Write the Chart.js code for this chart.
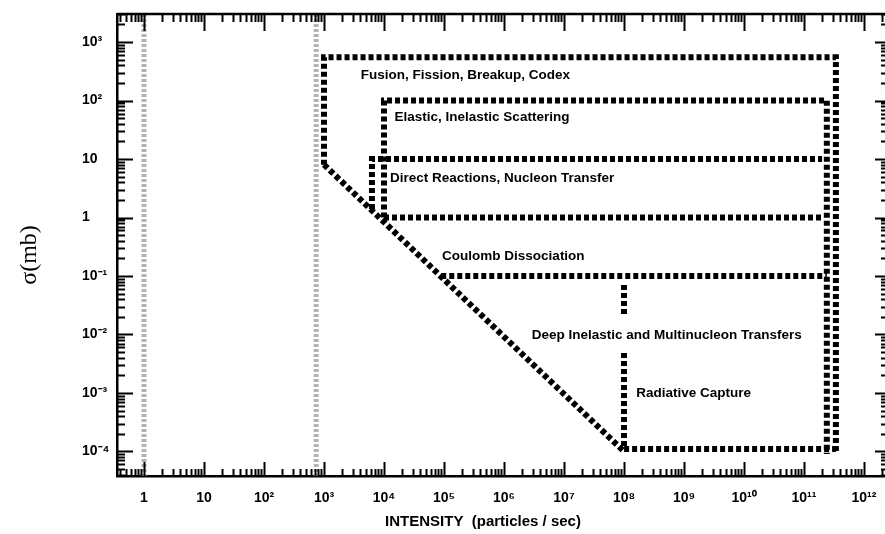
<!DOCTYPE html>
<html>
<head>
<meta charset="utf-8">
<script src="https://cdn.jsdelivr.net/npm/chart.js@4.4.1/dist/chart.umd.min.js"></script>
<style>
  html, body { margin: 0; padding: 0; background: #fff; overflow: hidden; }
  #wrap { width: 885px; height: 534px; position: relative; }
</style>
</head>
<body>
<div id="wrap"><canvas id="myChart"></canvas></div>
<script>
// axis ticks
var xTickValues = [1, 1e1, 1e2, 1e3, 1e4, 1e5, 1e6, 1e7, 1e8, 1e9, 1e10, 1e11, 1e12];
var xTickLabels = ['1', '10', '10²', '10³', '10⁴', '10⁵', '10⁶', '10⁷', '10⁸', '10⁹', '10¹⁰', '10¹¹', '10¹²'];
var yTickValues = [1e-4, 1e-3, 1e-2, 1e-1, 1, 10, 100, 1000];
var yTickLabels = ['10⁻⁴', '10⁻³', '10⁻²', '10⁻¹', '1', '10', '10²', '10³'];

// region boundaries (intensity, cross section)
var fusionX = [1e3, 1e3, 3.4e11, 3.4e11];
var fusionY = [8, 550, 550, 9e-5];
var elasticX = [1e4, 1e4, 2.4e11, 2.4e11];
var elasticY = [1, 100, 100, 9e-5];
var directX = [6.3e3, 6.3e3, 2e11];
var directY = [1.4, 10, 10];
var transferX = [1e4, 2e11];
var transferY = [1, 1];
var coulombX = [9e4, 2.4e11];
var coulombY = [0.1, 0.1];
var diagonalX = [1e3, 1e8];
var diagonalY = [8, 1e-4];
var deepX = [1e8, 1e8];
var deepY = [0.07, 0.02];
var captureX = [1e8, 1e8, 3.4e11];
var captureY = [0.0048, 1.1e-4, 1.1e-4];
var limitLowX = [1, 1];
var limitHighX = [740, 740];
var limitY = [3e-5, 3000];

// region names and where they sit
var regionLabels = ['Fusion, Fission, Breakup, Codex', 'Elastic, Inelastic Scattering',
  'Direct Reactions, Nucleon Transfer', 'Coulomb Dissociation',
  'Deep Inelastic and Multinucleon Transfers', 'Radiative Capture'];
var labelX = [4.1e3, 1.5e4, 1.26e4, 9.3e4, 2.9e6, 1.6e8];
var labelY = [275, 52, 4.7, 0.22, 0.0098, 1e-3];

function pts(xs, ys) {
    return xs.map(function(x, i) { return { x: x, y: ys[i] }; });
}

function boundary(xs, ys) {
    return {
        data: pts(xs, ys),
        borderColor: '#000',
        borderWidth: 6,
        borderDash: [5, 3],
        borderCapStyle: 'butt',
        pointRadius: 0,
        fill: false
    };
}

function limit(xs) {
    return {
        data: pts(xs, limitY),
        borderColor: '#b4b4b4',
        borderWidth: 5,
        borderDash: [3, 2],
        pointRadius: 0,
        fill: false
    };
}

var frame = {
    id: 'frame',
    afterDatasetsDraw: function(chart) {
        var ctx = chart.ctx;
        var a = chart.chartArea;
        var xs = chart.scales.x, ys = chart.scales.y;
        ctx.save();
        ctx.strokeStyle = '#000';

        // top border
        ctx.lineWidth = 2.5;
        ctx.beginPath();
        ctx.moveTo(a.left, a.top);
        ctx.lineTo(a.right, a.top);
        ctx.stroke();

        // inward ticks, long at decades
        ctx.lineWidth = 2;
        ctx.beginPath();
        for (var n = -1; n <= 12; n++) {
            for (var k = 1; k <= 9; k++) {
                var v = k * Math.pow(10, n);
                if (v >= xs.min && v <= xs.max) {
                    var px = Math.round(xs.getPixelForValue(v)) + 0.5;
                    ctx.moveTo(px, a.bottom);
                    ctx.lineTo(px, a.bottom - (k === 1 ? 14 : 7));
                    ctx.moveTo(px, a.top);
                    ctx.lineTo(px, a.top + (k === 1 ? 17 : 8));
                }
            }
        }
        for (var m = -5; m <= 3; m++) {
            for (var j = 1; j <= 9; j++) {
                var val = j * Math.pow(10, m);
                if (val >= ys.min && val <= ys.max) {
                    var py = Math.round(ys.getPixelForValue(val)) + 0.5;
                    ctx.moveTo(a.left, py);
                    ctx.lineTo(a.left + (j === 1 ? 16 : 8), py);
                    ctx.moveTo(a.right, py);
                    ctx.lineTo(a.right - (j === 1 ? 10 : 4), py);
                }
            }
        }
        ctx.stroke();

        // region names
        ctx.fillStyle = '#000';
        ctx.font = 'bold 13.5px "Liberation Sans", Arial, sans-serif';
        ctx.textAlign = 'left';
        ctx.textBaseline = 'middle';
        regionLabels.forEach(function(t, i) {
            ctx.fillText(t, xs.getPixelForValue(labelX[i]), ys.getPixelForValue(labelY[i]));
        });

        // axis titles
        ctx.textAlign = 'center';
        ctx.font = 'bold 15px "Liberation Sans", Arial, sans-serif';
        ctx.fillText('INTENSITY  (particles / sec)', 483, 522);
        ctx.translate(30, 255);
        ctx.rotate(-Math.PI / 2);
        ctx.font = '24px "Liberation Serif", "DejaVu Serif", serif';
        ctx.fillText('σ(mb)', 0, 0);
        ctx.restore();
    }
};

document.addEventListener('DOMContentLoaded', function() {
    Chart.defaults.color = '#000';
    Chart.defaults.font.family = '"Liberation Sans", Arial, sans-serif';

    var ctx = document.getElementById('myChart').getContext('2d');
    var myChart = new Chart(ctx, {
        type: 'line',
        data: {
            datasets: [
                limit(limitLowX),
                limit(limitHighX),
                boundary(fusionX, fusionY),
                boundary(elasticX, elasticY),
                boundary(directX, directY),
                boundary(transferX, transferY),
                boundary(coulombX, coulombY),
                boundary(diagonalX, diagonalY),
                boundary(deepX, deepY),
                boundary(captureX, captureY)
            ]
        },
        options: {
            responsive: true,
            maintainAspectRatio: false,
            animation: false,
            devicePixelRatio: 1,
            layout: { padding: { left: 82, top: 14, right: 0, bottom: 0 } },
            plugins: { legend: { display: false }, tooltip: { enabled: false } },
            scales: {
                x: {
                    type: 'logarithmic',
                    min: Math.pow(10, -0.45),
                    max: Math.pow(10, 12.35),
                    afterBuildTicks: function(scale) {
                        scale.ticks = xTickValues.map(function(v) { return { value: v }; });
                    },
                    afterFit: function(scale) {
                        scale.height = 58;
                        scale.paddingRight = 0;
                        scale.paddingLeft = 0;
                    },
                    grid: { display: false, drawTicks: false },
                    border: { display: true, color: '#000', width: 2.5 },
                    ticks: {
                        autoSkip: false,
                        maxRotation: 0,
                        padding: 14,
                        font: { size: 14, weight: 'bold' },
                        callback: function(value, index) { return xTickLabels[index]; }
                    }
                },
                y: {
                    type: 'logarithmic',
                    min: Math.pow(10, -4.42),
                    max: Math.pow(10, 3.48),
                    afterBuildTicks: function(scale) {
                        scale.ticks = yTickValues.map(function(v) { return { value: v }; });
                    },
                    afterFit: function(scale) {
                        scale.width = 35;
                        scale.paddingTop = 0;
                        scale.paddingBottom = 0;
                    },
                    grid: { display: false, drawTicks: false },
                    border: { display: true, color: '#000', width: 2.5 },
                    ticks: {
                        autoSkip: false,
                        crossAlign: 'far',
                        font: { size: 14, weight: 'bold' },
                        callback: function(value, index) { return yTickLabels[index]; }
                    }
                }
            }
        },
        plugins: [frame]
    });
});
</script>
</body>
</html>
